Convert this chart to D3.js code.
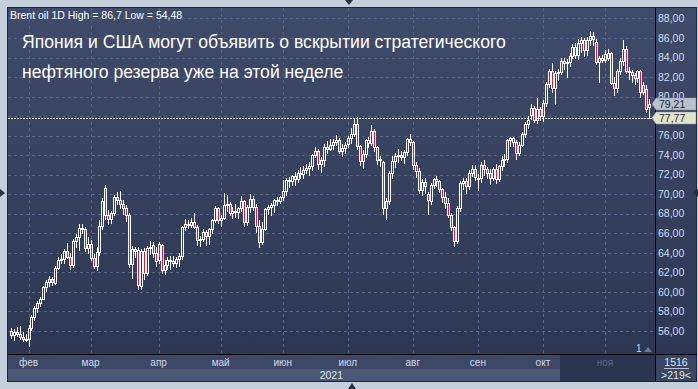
<!DOCTYPE html>
<meta charset="utf-8">
<title>Brent oil 1D</title>
<script src="https://cdn.jsdelivr.net/npm/d3@7"></script>
<style>
  body { margin: 0; background: #c5cfdb; }
  svg { display: block; font-family: "Liberation Sans", Arial, sans-serif; }
</style>
<svg id="chart" width="698" height="389"></svg>
<script>
  // daily candles [open, high, low, close], one array per month
  var jan = [[56.0, 56.3, 55.3, 55.6], [55.6, 56.2, 55.0, 55.9], [55.9, 56.4, 55.5, 55.7], [55.7, 56.5, 55.2, 55.4],
    [55.4, 55.9, 54.9, 55.2], [55.2, 55.7, 54.9, 55.0]];
  var feb = [[55.1, 56.6, 54.48, 56.3], [56.3, 57.6, 56.1, 57.4], [57.4, 58.5, 57.1, 58.3], [58.3, 59.0, 57.9, 58.8],
    [58.8, 59.5, 58.5, 59.3], [59.3, 60.6, 59.2, 60.5], [60.5, 61.2, 60.1, 61.0], [61.0, 61.6, 60.6, 61.3],
    [61.3, 61.5, 60.7, 61.0], [60.9, 62.6, 60.8, 62.4], [62.4, 63.6, 62.3, 63.2], [63.2, 63.9, 62.9, 63.3],
    [63.3, 64.4, 62.9, 64.2], [64.2, 65.0, 63.5, 63.6], [63.6, 64.0, 62.3, 62.7], [62.7, 65.4, 62.5, 65.2],
    [65.2, 65.9, 64.6, 65.6], [65.6, 66.9, 64.3, 66.5], [66.5, 66.9, 66.0, 66.4], [66.4, 66.6, 64.2, 64.5],
    [64.5, 65.6, 64.0, 64.9]];
  var mar = [[64.9, 65.3, 63.2, 63.5], [63.5, 63.9, 62.4, 62.6], [62.6, 64.6, 62.2, 64.1], [64.1, 67.3, 63.8, 66.7],
    [66.7, 69.6, 66.4, 69.3], [70.6, 70.9, 67.4, 67.9], [67.9, 68.4, 66.9, 67.4], [67.4, 68.3, 67.0, 68.1],
    [68.1, 69.9, 67.9, 69.7], [69.7, 70.2, 69.0, 69.4], [69.4, 70.3, 68.6, 69.0], [69.0, 69.4, 68.0, 68.6],
    [68.6, 68.9, 67.2, 67.9], [67.9, 68.1, 62.5, 62.8], [62.8, 64.7, 61.4, 64.4], [64.4, 64.6, 63.6, 64.2],
    [64.3, 64.6, 60.3, 60.7], [60.6, 64.4, 60.3, 64.2], [64.2, 64.5, 61.3, 61.9], [61.9, 64.7, 61.7, 64.5],
    [64.5, 65.2, 63.9, 64.6], [64.8, 65.1, 63.6, 64.0], [64.0, 64.6, 62.6, 63.1]];
  var apr = [[63.2, 65.1, 62.9, 64.9], [64.8, 64.9, 61.9, 62.2], [62.2, 63.2, 61.8, 62.7], [62.7, 63.6, 62.3, 63.2],
    [63.2, 63.7, 62.3, 63.1], [63.1, 63.7, 62.6, 62.9], [62.9, 63.6, 62.5, 63.3], [63.3, 64.0, 62.6, 63.7],
    [63.7, 66.7, 63.4, 66.6], [66.6, 67.4, 66.3, 66.9], [66.9, 67.3, 66.5, 66.8], [66.8, 67.5, 66.6, 67.1],
    [67.1, 68.1, 66.5, 66.6], [66.6, 66.8, 64.8, 65.3], [65.3, 65.7, 64.7, 65.4], [65.4, 66.4, 65.2, 66.1],
    [66.1, 66.3, 64.8, 65.7], [65.7, 66.5, 64.9, 66.4], [66.4, 67.4, 66.0, 67.3], [67.3, 68.8, 67.1, 68.6],
    [68.6, 68.7, 67.0, 67.3]];
  var may = [[67.3, 67.9, 66.7, 67.6], [67.6, 70.1, 67.4, 68.9], [68.9, 69.9, 68.3, 69.0], [69.0, 69.2, 67.9, 68.1],
    [68.1, 68.7, 67.5, 68.3], [68.3, 69.0, 67.7, 68.2], [68.2, 68.7, 67.5, 68.6], [68.6, 69.8, 68.3, 69.3],
    [69.3, 69.4, 66.7, 67.1], [67.1, 68.9, 66.8, 68.7], [68.7, 70.0, 68.2, 69.5], [69.5, 69.8, 68.4, 68.7],
    [68.7, 69.0, 66.1, 66.7], [66.7, 67.3, 64.6, 65.1], [65.1, 67.1, 64.9, 66.4], [66.4, 68.6, 66.3, 68.5],
    [68.5, 68.9, 68.0, 68.7], [68.7, 69.1, 67.9, 68.9], [68.9, 69.5, 68.2, 69.4], [69.4, 69.7, 68.9, 69.3],
    [69.3, 69.8, 69.1, 69.7]];
  var jun = [[69.7, 71.4, 69.4, 70.3], [70.3, 71.6, 69.9, 71.4], [71.4, 71.8, 70.7, 71.3], [71.3, 72.0, 70.9, 71.9],
    [71.9, 72.3, 70.9, 71.5], [71.5, 72.5, 71.2, 72.2], [72.2, 72.8, 71.7, 72.1], [72.1, 72.9, 71.6, 72.5],
    [72.5, 73.1, 72.2, 72.7], [72.7, 73.3, 72.0, 72.9], [72.9, 74.1, 72.5, 74.0], [74.0, 74.8, 73.8, 74.4],
    [74.4, 74.6, 72.6, 73.1], [73.1, 73.8, 72.3, 73.5], [73.5, 75.1, 72.9, 74.8], [74.8, 75.4, 74.2, 74.6],
    [74.6, 75.6, 74.5, 75.0], [75.0, 75.6, 74.6, 75.3], [75.3, 76.1, 75.0, 75.5], [75.5, 75.8, 74.2, 74.4],
    [74.4, 75.1, 73.9, 74.7], [74.7, 75.3, 74.2, 75.0]];
  var jul = [[75.1, 76.0, 74.8, 75.8], [75.8, 76.8, 75.2, 76.2], [76.2, 77.8, 76.0, 77.2], [77.2, 77.9, 74.6, 74.9],
    [74.9, 75.0, 73.0, 73.4], [73.4, 74.5, 72.7, 74.1], [74.1, 75.6, 73.8, 75.5], [75.5, 75.9, 74.8, 75.2],
    [75.2, 77.1, 75.0, 76.5], [76.5, 76.7, 74.4, 74.8], [74.8, 74.9, 73.1, 73.5], [73.5, 73.9, 72.9, 73.6],
    [73.3, 73.4, 68.0, 68.6], [68.6, 69.6, 67.4, 69.3], [69.3, 72.4, 69.0, 72.2], [72.2, 73.9, 71.6, 73.4],
    [73.4, 74.2, 72.8, 73.9], [73.9, 74.6, 73.3, 74.0], [74.0, 74.4, 73.5, 73.8], [73.8, 74.5, 73.2, 74.3],
    [74.3, 75.8, 74.0, 75.6], [75.6, 76.2, 75.0, 75.3]];
  var aug = [[75.3, 75.4, 72.6, 73.0], [73.0, 73.3, 71.8, 72.4], [72.4, 72.7, 70.1, 70.4], [70.4, 71.5, 69.9, 71.2],
    [71.2, 71.6, 70.1, 70.8], [70.0, 70.2, 68.0, 69.4], [69.3, 71.1, 69.0, 70.9], [70.9, 71.7, 70.6, 71.5],
    [71.5, 71.9, 70.8, 71.3], [71.3, 71.4, 70.2, 70.5], [70.5, 70.6, 69.2, 69.7], [69.7, 70.2, 68.6, 69.1],
    [69.1, 69.6, 67.7, 67.9], [67.9, 68.1, 66.3, 66.6], [66.6, 66.7, 64.7, 65.2], [65.2, 68.8, 65.0, 68.6],
    [68.6, 71.3, 68.3, 71.1], [71.1, 71.7, 70.5, 71.3], [71.3, 71.6, 70.1, 70.8], [70.8, 72.5, 70.5, 72.2],
    [72.2, 73.0, 71.9, 72.6], [72.6, 73.0, 71.4, 71.8]];
  var sep = [[71.6, 72.1, 70.4, 71.6], [71.6, 73.3, 71.2, 73.0], [73.0, 73.5, 72.0, 72.6], [72.6, 72.8, 71.6, 72.2],
    [72.2, 72.6, 71.0, 71.7], [71.7, 72.8, 71.4, 72.6], [72.6, 73.1, 71.1, 71.5], [71.5, 73.0, 71.3, 72.9],
    [72.9, 73.9, 72.5, 73.5], [73.5, 74.1, 72.9, 73.6], [73.6, 75.6, 73.3, 75.5], [75.5, 75.9, 74.9, 75.7],
    [75.7, 75.9, 74.9, 75.3], [75.3, 75.5, 73.6, 74.2], [74.2, 75.3, 74.0, 75.0], [75.0, 76.4, 74.9, 76.2],
    [76.2, 77.4, 75.9, 77.2], [77.2, 78.0, 76.8, 77.6], [78.1, 79.2, 77.7, 78.8], [78.8, 79.0, 77.4, 77.6],
    [77.6, 79.9, 77.3, 78.7], [78.7, 78.9, 77.6, 78.0]];
  var oct = [[78.0, 79.6, 77.5, 79.3], [79.3, 81.5, 79.0, 81.3], [81.3, 82.8, 81.0, 82.6], [82.6, 83.4, 80.5, 80.9],
    [80.9, 82.6, 79.2, 82.4], [82.4, 82.8, 81.7, 82.5], [82.5, 84.0, 82.3, 83.6], [83.6, 84.0, 82.8, 83.4],
    [83.4, 83.8, 82.0, 83.5], [83.5, 84.5, 83.1, 84.2], [84.2, 85.4, 84.0, 85.1], [85.1, 85.5, 83.9, 84.3],
    [84.3, 85.9, 83.8, 85.5], [85.5, 86.1, 84.6, 85.8], [85.8, 86.0, 84.2, 84.8], [84.8, 86.1, 84.3, 85.8],
    [85.8, 86.7, 85.3, 86.2], [86.2, 86.6, 85.3, 85.9], [85.6, 85.9, 83.3, 83.5], [83.5, 84.2, 81.5, 83.9],
    [83.9, 84.3, 83.5, 83.7]];
  var nov = [[83.7, 84.8, 83.5, 84.4], [84.0, 84.9, 83.7, 84.5], [84.5, 84.6, 81.3, 81.4], [81.4, 82.0, 80.2, 80.9],
    [80.9, 82.8, 80.5, 82.6], [82.6, 83.9, 82.3, 83.6], [83.6, 85.8, 83.2, 84.9], [84.9, 85.2, 82.4, 82.6],
    [82.6, 83.0, 81.8, 82.5], [82.5, 82.7, 81.5, 82.2], [82.2, 82.4, 81.3, 81.9], [81.9, 82.7, 81.5, 82.6],
    [82.6, 82.7, 80.0, 80.5], [81.2, 81.5, 80.3, 80.5], [80.8, 81.2, 78.4, 78.7], [78.9, 79.7, 77.77, 79.21]];

  var monthLabels = ["фев", "мар", "апр", "май", "июн", "июл", "авг", "сен", "окт", "ноя"];
  var yTicks = [56, 58, 60, 62, 64, 66, 68, 70, 72, 74, 76, 78, 80, 82, 84, 86, 88];
  var lastPrice = 79.21, levelPrice = 77.77;

  var months = [jan, feb, mar, apr, may, jun, jul, aug, sep, oct, nov];
  var data = [], monthStart = [];
  months.forEach(function (m, mi) {
    if (mi > 0) monthStart.push(data.length);
    m.forEach(function (d) { data.push({ i: data.length, o: d[0], h: d[1], l: d[2], c: d[3] }); });
  });

  var area = { left: 8, right: 655, top: 8, bottom: 354 };
  var svg = d3.select("#chart");
  var fmt = function (v) { return d3.format(".2f")(v).replace(".", ","); };

  var x = d3.scaleBand().domain(d3.range(data.length)).range([9.3, 650.8]);
  var y = d3.scaleLinear().domain([56, 86]).range([330.7, 38]);
  var cx = function (i) { return Math.round(x(i) + x.bandwidth() / 2) + 0.5; };
  var py = function (v) { return Math.round(y(v)) + 0.5; };

  var defs = svg.append("defs");
  var grad = defs.append("linearGradient").attr("id", "bg").attr("x1", 0).attr("x2", 0).attr("y1", 0).attr("y2", 1);
  grad.append("stop").attr("offset", "0%").attr("stop-color", "#3f4b6a");
  grad.append("stop").attr("offset", "100%").attr("stop-color", "#2c3753");
  defs.append("clipPath").attr("id", "clip").append("rect")
    .attr("x", area.left).attr("y", area.top).attr("width", area.right - area.left).attr("height", area.bottom - area.top);

  // panel
  svg.append("rect").attr("x", 7).attr("y", 7).attr("width", 690).attr("height", 347).attr("fill", "url(#bg)");
  svg.append("rect").attr("x", 7).attr("y", 354).attr("width", 690).attr("height", 15).attr("fill", "#3c4865");
  svg.append("rect").attr("x", 7).attr("y", 369).attr("width", 648).attr("height", 12).attr("fill", "#4b5875");
  svg.append("rect").attr("x", 560).attr("y", 355).attr("width", 95).attr("height", 26).attr("fill", "#2b3550");
  svg.append("rect").attr("x", 656).attr("y", 355).attr("width", 41).attr("height", 26).attr("fill", "#394561");
  svg.append("rect").attr("x", 7.5).attr("y", 7.5).attr("width", 689).attr("height", 374)
    .attr("fill", "none").attr("stroke", "#1e2534");
  svg.append("line").attr("x1", 655.5).attr("x2", 655.5).attr("y1", 8).attr("y2", 381).attr("stroke", "#000");
  svg.append("line").attr("x1", 8).attr("x2", 697).attr("y1", 354.5).attr("y2", 354.5).attr("stroke", "#000");

  // grid
  var grid = svg.append("g").attr("clip-path", "url(#clip)");
  grid.selectAll(".hg").data(yTicks).enter().append("line")
    .attr("x1", area.left).attr("x2", area.right)
    .attr("y1", function (d) { return py(d); }).attr("y2", function (d) { return py(d); })
    .attr("stroke", "#56648a").attr("stroke-dasharray", "3,3");
  grid.selectAll(".vg").data(monthStart).enter().append("line")
    .attr("x1", function (d) { return cx(d); }).attr("x2", function (d) { return cx(d); })
    .attr("y1", area.top).attr("y2", area.bottom)
    .attr("stroke", "#56648a").attr("stroke-dasharray", "3,3");

  // level line
  grid.append("line").attr("x1", area.left).attr("x2", area.right)
    .attr("y1", py(levelPrice)).attr("y2", py(levelPrice))
    .attr("stroke", "#f2f2f2").attr("stroke-dasharray", "2,1");

  // candles
  var plot = svg.append("g").attr("clip-path", "url(#clip)");
  var candle = plot.selectAll("g.candle").data(data).enter().append("g").attr("class", "candle");
  candle.append("line")
    .attr("x1", function (d) { return cx(d.i); }).attr("x2", function (d) { return cx(d.i); })
    .attr("y1", function (d) { return py(d.h) - 0.5; })
    .attr("y2", function (d) { return py(Math.max(d.o, d.c)); })
    .attr("stroke", "#fff");
  candle.append("line")
    .attr("x1", function (d) { return cx(d.i); }).attr("x2", function (d) { return cx(d.i); })
    .attr("y1", function (d) { return py(Math.min(d.o, d.c)); })
    .attr("y2", function (d) { return py(d.l) + 0.5; })
    .attr("stroke", "#fff");
  candle.append("rect")
    .attr("x", function (d) { return cx(d.i) - 1; })
    .attr("y", function (d) { return py(Math.max(d.o, d.c)); })
    .attr("width", 2)
    .attr("height", function (d) { return Math.max(1, py(Math.min(d.o, d.c)) - py(Math.max(d.o, d.c))); })
    .attr("fill", function (d) { return d.c < d.o ? "#e5163e" : "none"; })
    .attr("stroke", "#fff");

  // right axis (78,00 sits under the 77,77 tag in the original, so it is left out)
  var yAxis = svg.append("g").attr("transform", "translate(655,0)")
    .call(d3.axisRight(y).tickValues(yTicks.filter(function (d) { return d !== 78; }))
      .tickFormat(fmt).tickSize(0).tickPadding(3));
  yAxis.select(".domain").remove();
  yAxis.selectAll("text").attr("fill", "#cfdcef").attr("font-size", "10.5px")
    .attr("font-family", "Liberation Sans, Arial, sans-serif");

  // price tags
  function tag(v, bg) {
    var t = Math.round(y(v));
    svg.append("path")
      .attr("d", "M652," + t + " L656," + (t - 6) + " L696," + (t - 6) + " L696," + (t + 6) + " L656," + (t + 6) + " Z")
      .attr("fill", bg).attr("stroke", "#8a93a3").attr("stroke-width", 0.5);
    svg.append("text").attr("x", 659).attr("y", t + 4).attr("font-size", "10.5px")
      .attr("fill", "#1e2a3e").text(fmt(v));
  }
  tag(lastPrice, "#b9c1cd");
  tag(levelPrice, "#e3e3c8");

  // bottom axis
  var xAxis = svg.append("g").attr("transform", "translate(0,355)")
    .call(d3.axisBottom(x).tickValues(monthStart).tickFormat(function (d, i) { return monthLabels[i]; })
      .tickSize(0).tickPadding(4));
  xAxis.select(".domain").remove();
  xAxis.selectAll("text").attr("font-size", "10px").attr("font-family", "Liberation Sans, Arial, sans-serif")
    .attr("fill", function (d, i) { return i === monthLabels.length - 1 ? "#5d6984" : "#cfdcef"; });

  svg.append("text").attr("x", 343).attr("y", 379).attr("text-anchor", "end")
    .attr("font-size", "10.5px").attr("fill", "#dde5f0").text("2021");

  // bottom right counter
  svg.append("text").attr("x", 676).attr("y", 366).attr("text-anchor", "middle")
    .attr("font-size", "10.5px").attr("fill", "#dde5f0").text("1516");
  svg.append("line").attr("x1", 664).attr("x2", 689).attr("y1", 368.5).attr("y2", 368.5).attr("stroke", "#b8c2d2");
  svg.append("text").attr("x", 676).attr("y", 378.5).attr("text-anchor", "middle")
    .attr("font-size", "10.5px").attr("fill", "#dde5f0").text(">219<");

  svg.append("text").attr("x", 636).attr("y", 352).attr("font-size", "10px").attr("fill", "#c9d2e2").text("1");
  svg.append("path").attr("d", "M644,352 L648,347 L652,352 Z").attr("fill", "#6e7890");

  // header texts
  svg.append("text").attr("x", 10).attr("y", 19).attr("font-size", "10.5px").attr("fill", "#fff")
    .text("Brent oil 1D High = 86,7 Low = 54,48");
  svg.append("text").attr("x", 22).attr("y", 48).attr("font-size", "17.6px").attr("fill", "#fff")
    .text("Япония и США могут объявить о вскрытии стратегического");
  svg.append("text").attr("x", 22).attr("y", 78).attr("font-size", "17.6px").attr("fill", "#fff")
    .text("нефтяного резерва уже на этой неделе");

  // scroll arrows round the frame
  var arrow = "#2a3142";
  svg.append("path").attr("d", "M345,0 L353,0 L349,5 Z").attr("fill", arrow);
  svg.append("path").attr("d", "M0,189 L0,197 L5,193 Z").attr("fill", arrow);
  svg.append("path").attr("d", "M698,189 L698,197 L693,193 Z").attr("fill", arrow);
  svg.append("path").attr("d", "M348,389 L356,389 L352,383 Z").attr("fill", arrow);
</script>
